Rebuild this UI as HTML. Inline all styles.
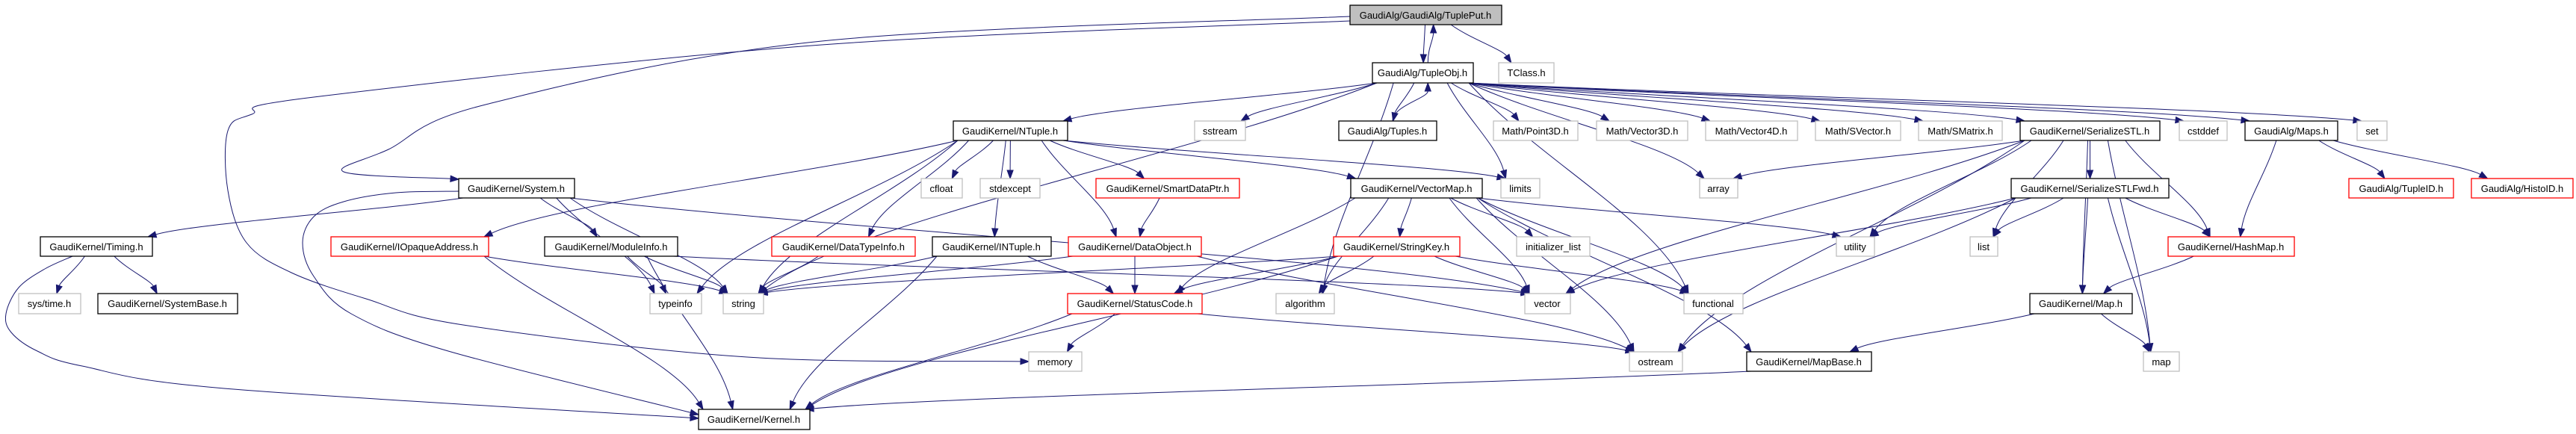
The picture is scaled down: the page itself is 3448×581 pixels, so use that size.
<!DOCTYPE html>
<html><head><meta charset="utf-8"><style>
html,body{margin:0;padding:0;background:#fff;}
svg{display:block;}
text{font-family:"Liberation Sans",Arial,sans-serif;font-size:13px;fill:#000;}
</style></head><body>
<svg id="g" width="3448" height="581" viewBox="0 0 3448 581" xmlns="http://www.w3.org/2000/svg">
<g id="edges" fill="none" stroke="#191970" stroke-width="1"></g>
<g id="heads" fill="#191970" stroke="#191970"></g>
<g id="nodes" stroke-width="1.3">
<rect x="1807" y="7" width="203" height="26" fill="#bfbfbf" stroke="#000"/><text x="1908" y="25" text-anchor="middle">GaudiAlg/GaudiAlg/TuplePut.h</text>
<rect x="1837" y="84" width="135" height="27" fill="#fff" stroke="#000"/><text x="1904" y="102" text-anchor="middle">GaudiAlg/TupleObj.h</text>
<rect x="2006" y="84" width="74" height="27" fill="#fff" stroke="#bfbfbf"/><text x="2043" y="102" text-anchor="middle">TClass.h</text>
<rect x="614" y="239" width="155" height="26" fill="#fff" stroke="#000"/><text x="691" y="257" text-anchor="middle">GaudiKernel/System.h</text>
<rect x="54" y="317" width="150" height="26" fill="#fff" stroke="#000"/><text x="129" y="335" text-anchor="middle">GaudiKernel/Timing.h</text>
<rect x="25" y="393" width="83" height="27" fill="#fff" stroke="#bfbfbf"/><text x="66" y="411" text-anchor="middle">sys/time.h</text>
<rect x="131" y="393" width="187" height="27" fill="#fff" stroke="#000"/><text x="224" y="411" text-anchor="middle">GaudiKernel/SystemBase.h</text>
<rect x="443" y="317" width="211" height="26" fill="#fff" stroke="#f00"/><text x="548" y="335" text-anchor="middle">GaudiKernel/IOpaqueAddress.h</text>
<rect x="729" y="317" width="178" height="26" fill="#fff" stroke="#000"/><text x="818" y="335" text-anchor="middle">GaudiKernel/ModuleInfo.h</text>
<rect x="1033" y="317" width="192" height="26" fill="#fff" stroke="#f00"/><text x="1129" y="335" text-anchor="middle">GaudiKernel/DataTypeInfo.h</text>
<rect x="1248" y="317" width="159" height="26" fill="#fff" stroke="#000"/><text x="1327" y="335" text-anchor="middle">GaudiKernel/INTuple.h</text>
<rect x="1276" y="162" width="153" height="26" fill="#fff" stroke="#000"/><text x="1352" y="180" text-anchor="middle">GaudiKernel/NTuple.h</text>
<rect x="1233" y="239" width="55" height="26" fill="#fff" stroke="#bfbfbf"/><text x="1260" y="257" text-anchor="middle">cfloat</text>
<rect x="1312" y="239" width="80" height="26" fill="#fff" stroke="#bfbfbf"/><text x="1352" y="257" text-anchor="middle">stdexcept</text>
<rect x="870" y="393" width="69" height="27" fill="#fff" stroke="#bfbfbf"/><text x="904" y="411" text-anchor="middle">typeinfo</text>
<rect x="968" y="393" width="54" height="27" fill="#fff" stroke="#bfbfbf"/><text x="995" y="411" text-anchor="middle">string</text>
<rect x="935" y="548" width="149" height="27" fill="#fff" stroke="#000"/><text x="1009" y="566" text-anchor="middle">GaudiKernel/Kernel.h</text>
<rect x="1377" y="471" width="71" height="26" fill="#fff" stroke="#bfbfbf"/><text x="1412" y="489" text-anchor="middle">memory</text>
<rect x="1599" y="162" width="68" height="26" fill="#fff" stroke="#bfbfbf"/><text x="1633" y="180" text-anchor="middle">sstream</text>
<rect x="1792" y="162" width="131" height="26" fill="#fff" stroke="#000"/><text x="1857" y="180" text-anchor="middle">GaudiAlg/Tuples.h</text>
<rect x="1999" y="162" width="113" height="26" fill="#fff" stroke="#bfbfbf"/><text x="2055" y="180" text-anchor="middle">Math/Point3D.h</text>
<rect x="1467" y="239" width="192" height="26" fill="#fff" stroke="#f00"/><text x="1563" y="257" text-anchor="middle">GaudiKernel/SmartDataPtr.h</text>
<rect x="1808" y="239" width="176" height="26" fill="#fff" stroke="#000"/><text x="1896" y="257" text-anchor="middle">GaudiKernel/VectorMap.h</text>
<rect x="2009" y="239" width="52" height="26" fill="#fff" stroke="#bfbfbf"/><text x="2035" y="257" text-anchor="middle">limits</text>
<rect x="1430" y="317" width="178" height="26" fill="#fff" stroke="#f00"/><text x="1519" y="335" text-anchor="middle">GaudiKernel/DataObject.h</text>
<rect x="1785" y="317" width="169" height="26" fill="#fff" stroke="#f00"/><text x="1869" y="335" text-anchor="middle">GaudiKernel/StringKey.h</text>
<rect x="2030" y="317" width="98" height="26" fill="#fff" stroke="#bfbfbf"/><text x="2079" y="335" text-anchor="middle">initializer_list</text>
<rect x="1429" y="393" width="180" height="27" fill="#fff" stroke="#f00"/><text x="1519" y="411" text-anchor="middle">GaudiKernel/StatusCode.h</text>
<rect x="1708" y="393" width="78" height="27" fill="#fff" stroke="#bfbfbf"/><text x="1747" y="411" text-anchor="middle">algorithm</text>
<rect x="2041" y="393" width="61" height="27" fill="#fff" stroke="#bfbfbf"/><text x="2071" y="411" text-anchor="middle">vector</text>
<rect x="2137" y="162" width="122" height="26" fill="#fff" stroke="#bfbfbf"/><text x="2198" y="180" text-anchor="middle">Math/Vector3D.h</text>
<rect x="2283" y="162" width="123" height="26" fill="#fff" stroke="#bfbfbf"/><text x="2344" y="180" text-anchor="middle">Math/Vector4D.h</text>
<rect x="2430" y="162" width="114" height="26" fill="#fff" stroke="#bfbfbf"/><text x="2487" y="180" text-anchor="middle">Math/SVector.h</text>
<rect x="2568" y="162" width="112" height="26" fill="#fff" stroke="#bfbfbf"/><text x="2624" y="180" text-anchor="middle">Math/SMatrix.h</text>
<rect x="2704" y="162" width="187" height="26" fill="#fff" stroke="#000"/><text x="2797" y="180" text-anchor="middle">GaudiKernel/SerializeSTL.h</text>
<rect x="2275" y="239" width="51" height="26" fill="#fff" stroke="#bfbfbf"/><text x="2300" y="257" text-anchor="middle">array</text>
<rect x="2692" y="239" width="211" height="26" fill="#fff" stroke="#000"/><text x="2797" y="257" text-anchor="middle">GaudiKernel/SerializeSTLFwd.h</text>
<rect x="2458" y="317" width="51" height="26" fill="#fff" stroke="#bfbfbf"/><text x="2483" y="335" text-anchor="middle">utility</text>
<rect x="2637" y="317" width="37" height="26" fill="#fff" stroke="#bfbfbf"/><text x="2655" y="335" text-anchor="middle">list</text>
<rect x="2254" y="393" width="79" height="27" fill="#fff" stroke="#bfbfbf"/><text x="2293" y="411" text-anchor="middle">functional</text>
<rect x="2717" y="393" width="137" height="27" fill="#fff" stroke="#000"/><text x="2785" y="411" text-anchor="middle">GaudiKernel/Map.h</text>
<rect x="2181" y="471" width="71" height="26" fill="#fff" stroke="#bfbfbf"/><text x="2216" y="489" text-anchor="middle">ostream</text>
<rect x="2338" y="471" width="167" height="26" fill="#fff" stroke="#000"/><text x="2421" y="489" text-anchor="middle">GaudiKernel/MapBase.h</text>
<rect x="2917" y="162" width="64" height="26" fill="#fff" stroke="#bfbfbf"/><text x="2949" y="180" text-anchor="middle">cstddef</text>
<rect x="3005" y="162" width="124" height="26" fill="#fff" stroke="#000"/><text x="3067" y="180" text-anchor="middle">GaudiAlg/Maps.h</text>
<rect x="3155" y="162" width="40" height="26" fill="#fff" stroke="#bfbfbf"/><text x="3175" y="180" text-anchor="middle">set</text>
<rect x="3144" y="239" width="140" height="26" fill="#fff" stroke="#f00"/><text x="3214" y="257" text-anchor="middle">GaudiAlg/TupleID.h</text>
<rect x="3308" y="239" width="136" height="26" fill="#fff" stroke="#f00"/><text x="3376" y="257" text-anchor="middle">GaudiAlg/HistoID.h</text>
<rect x="2902" y="317" width="169" height="26" fill="#fff" stroke="#f00"/><text x="2986" y="335" text-anchor="middle">GaudiKernel/HashMap.h</text>
<rect x="2869" y="471" width="48" height="26" fill="#fff" stroke="#bfbfbf"/><text x="2893" y="489" text-anchor="middle">map</text>
</g>
</svg>
<script>
var N={};
document.querySelectorAll('#nodes rect').forEach(function(r){
  var t=r.nextElementSibling.textContent;
  N[t]={x:+r.getAttribute('x'),y:+r.getAttribute('y'),w:+r.getAttribute('width'),h:+r.getAttribute('height')};
});
function k(s){for(var n in N){if(n===s||n.split('/').pop()===s)return N[n];}return null;}
var eg=document.getElementById('edges'),hg=document.getElementById('heads'),ns='http://www.w3.org/2000/svg';
function head(tx,ty,fx,fy){
  var dx=tx-fx,dy=ty-fy,L=Math.sqrt(dx*dx+dy*dy)||1;dx/=L;dy/=L;
  var bx=tx-dx*11,by=ty-dy*11,px=-dy*4,py=dx*4;
  var h=document.createElementNS(ns,'polygon');
  h.setAttribute('points',tx+','+ty+' '+(bx+px)+','+(by+py)+' '+(bx-px)+','+(by-py));
  hg.appendChild(h);return [bx,by];
}
function poly(pts){ // smooth path through points, arrow at end
  var n=pts.length,last=pts[n-1],prev=pts[n-2];
  var b=head(last[0],last[1],prev[0],prev[1]);
  var P=pts.slice(0,n-1).concat([b]);
  var d='M'+P[0][0]+','+P[0][1];
  for(var i=0;i<P.length-1;i++){
    var p0=P[Math.max(0,i-1)],p1=P[i],p2=P[i+1],p3=P[Math.min(P.length-1,i+2)];
    d+=' C'+(p1[0]+(p2[0]-p0[0])/6)+','+(p1[1]+(p2[1]-p0[1])/6)+' '+(p2[0]-(p3[0]-p1[0])/6)+','+(p2[1]-(p3[1]-p1[1])/6)+' '+p2[0]+','+p2[1];
  }
  var p=document.createElementNS(ns,'path');p.setAttribute('d',d);eg.appendChild(p);
}
var V=[
 [[1807,28],[1100,60],[420,130],[337,153],[305,175],[305,255],[330,325],[390,365],[490,400],[620,435],[1000,478],[1377,484]],
 [[1807,22],[1100,55],[650,140],[520,200],[460,230],[614,240]],
 [[614,256],[530,258],[460,270],[420,290],[405,325],[420,370],[470,420],[600,470],[935,555]],
 [[97,343],[60,360],[25,385],[8,420],[15,445],[50,470],[110,490],[300,520],[935,560]]
];
V.forEach(poly);
var E=[
["TuplePut.h","TupleObj.h"],["TuplePut.h","TClass.h"],
["TupleObj.h","TuplePut.h"],["Tuples.h","TupleObj.h"],
["TupleObj.h","NTuple.h"],["TupleObj.h","sstream"],["TupleObj.h","Tuples.h"],["TupleObj.h","Point3D.h"],
["TupleObj.h","Vector3D.h"],["TupleObj.h","Vector4D.h"],["TupleObj.h","SVector.h"],["TupleObj.h","SMatrix.h"],
["TupleObj.h","SerializeSTL.h"],["TupleObj.h","cstddef"],["TupleObj.h","Maps.h"],["TupleObj.h","set"],
["TupleObj.h","limits"],["TupleObj.h","string"],["TupleObj.h","algorithm"],["TupleObj.h","array"],["TupleObj.h","functional"],
["System.h","Timing.h"],["System.h","ModuleInfo.h"],["System.h","typeinfo"],["System.h","string"],["System.h","vector"],
["Timing.h","sys/time.h"],["Timing.h","SystemBase.h"],
["IOpaqueAddress.h","Kernel.h"],["IOpaqueAddress.h","string"],
["ModuleInfo.h","string"],["ModuleInfo.h","Kernel.h"],["ModuleInfo.h","vector"],["ModuleInfo.h","typeinfo"],
["NTuple.h","IOpaqueAddress.h"],["NTuple.h","string"],["NTuple.h","cfloat"],["NTuple.h","stdexcept"],["NTuple.h","DataTypeInfo.h"],
["NTuple.h","INTuple.h"],["NTuple.h","SmartDataPtr.h"],["NTuple.h","DataObject.h"],["NTuple.h","VectorMap.h"],["NTuple.h","limits"],["NTuple.h","typeinfo"],
["DataTypeInfo.h","string"],["INTuple.h","string"],["INTuple.h","Kernel.h"],["INTuple.h","StatusCode.h"],
["SmartDataPtr.h","DataObject.h"],["DataObject.h","StatusCode.h"],["DataObject.h","string"],["DataObject.h","ostream"],
["StatusCode.h","memory"],["StatusCode.h","Kernel.h"],["StatusCode.h","ostream"],
["VectorMap.h","StringKey.h"],["VectorMap.h","StatusCode.h"],["VectorMap.h","algorithm"],["VectorMap.h","initializer_list"],
["VectorMap.h","vector"],["VectorMap.h","functional"],["VectorMap.h","ostream"],["VectorMap.h","utility"],["VectorMap.h","MapBase.h"],
["StringKey.h","string"],["StringKey.h","StatusCode.h"],["StringKey.h","algorithm"],["StringKey.h","vector"],["StringKey.h","functional"],["StringKey.h","Kernel.h"],
["SerializeSTL.h","array"],["SerializeSTL.h","utility"],["SerializeSTL.h","vector"],["SerializeSTL.h","list"],["SerializeSTL.h","SerializeSTLFwd.h"],
["SerializeSTL.h","Map.h"],["SerializeSTL.h","HashMap.h"],["SerializeSTL.h","map"],["SerializeSTL.h","ostream"],
["SerializeSTLFwd.h","utility"],["SerializeSTLFwd.h","list"],["SerializeSTLFwd.h","vector"],["SerializeSTLFwd.h","Map.h"],
["SerializeSTLFwd.h","HashMap.h"],["SerializeSTLFwd.h","map"],["SerializeSTLFwd.h","ostream"],
["Map.h","map"],["Map.h","MapBase.h"],["HashMap.h","Map.h"],["MapBase.h","Kernel.h"],
["Maps.h","HashMap.h"],["Maps.h","TupleID.h"],["Maps.h","HistoID.h"]
];
E.forEach(function(e){
  var s=k(e[0]),t=k(e[1]);if(!s||!t)return;
  var scx=s.x+s.w/2,tcx=t.x+t.w/2,sx,sy,tx,ty,c1x,c1y,c2x,c2y;
  if(t.y<s.y){
    sx=s.x+s.w*0.55; sy=s.y; tx=t.x+t.w*0.55; ty=t.y+t.h;
    c1x=sx;c1y=sy-(sy-ty)*0.4;c2x=tx;c2y=ty+(sy-ty)*0.4;
  } else if(t.y===s.y){
    sy=s.y+s.h/2;ty=t.y+t.h/2;
    if(tcx>scx){sx=s.x+s.w;tx=t.x;}else{sx=s.x;tx=t.x+t.w;}
    c1x=sx+(tx-sx)*0.4;c1y=sy;c2x=tx-(tx-sx)*0.4;c2y=ty;
  } else {
    sx=scx+Math.max(-s.w/2+6,Math.min(s.w/2-6,(tcx-scx)*0.25));sy=s.y+s.h;
    tx=tcx+Math.max(-t.w/2+6,Math.min(t.w/2-6,(scx-tcx)*0.15));ty=t.y;
    var dy=ty-sy;
    c1x=sx+(tx-sx)*0.3;c1y=sy+dy*0.35;c2x=tx-(tx-sx)*0.15;c2y=ty-dy*0.35;
  }
  var b=head(tx,ty,c2x,c2y);
  var p=document.createElementNS(ns,'path');
  p.setAttribute('d','M'+sx+','+sy+' C'+c1x+','+c1y+' '+c2x+','+c2y+' '+b[0]+','+b[1]);
  eg.appendChild(p);
});
</script>
</body></html>
